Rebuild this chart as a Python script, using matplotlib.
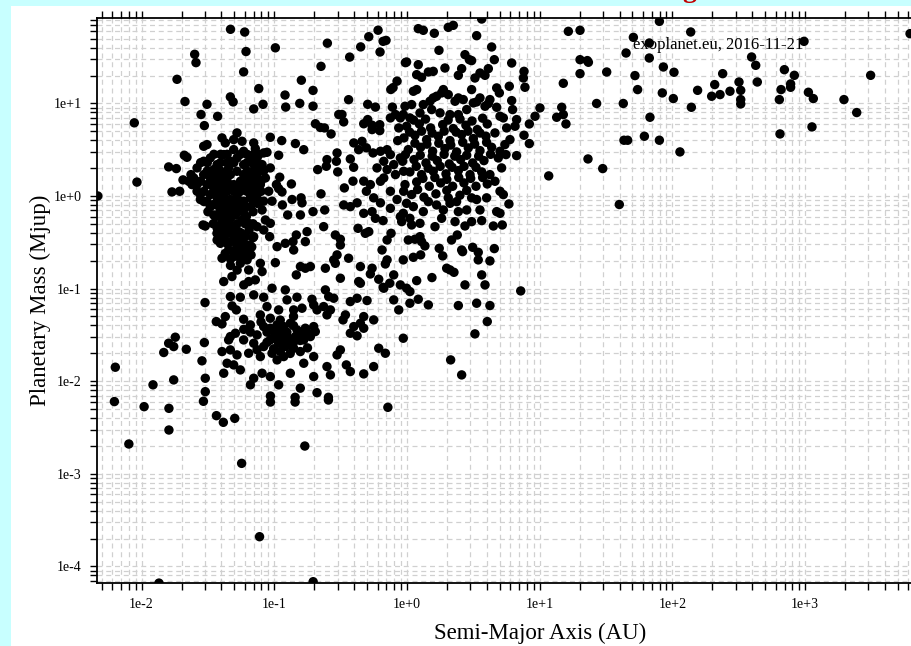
import numpy as np
import matplotlib.pyplot as plt
from matplotlib.ticker import FixedLocator, FuncFormatter, NullFormatter
from matplotlib.patches import Rectangle

# Values, stored as (log10 semi-major axis [AU], log10 mass [Mjup])

# short-period / warm region, upper left
upper_left = [
    (-1.33, 1.80), (-1.223, 1.77), (-1.213, 1.56), (-1.231, 1.34), (-0.992, 1.60), (-1.60, 1.53),
    (-1.59, 1.44), (-1.733, 1.26), (-0.60, 1.65), (-0.648, 1.40), (-0.432, 1.50), (-0.349, 1.61),
    (-0.288, 1.72), (-0.218, 1.79), (-0.18, 1.67), (-0.158, 1.68), (-0.203, 1.555), (-0.012, 1.44),
    (-0.796, 1.25), (-0.708, 1.14), (-1.117, 1.16), (-0.919, 1.09), (-0.914, 0.96), (-0.808, 1.0),
    (-0.708, 0.97), (-1.085, 0.99), (-1.155, 0.94), (-1.331, 1.07), (-1.31, 1.016), (-1.673, 1.02),
    (-1.507, 0.99), (-1.552, 0.88), (-1.427, 0.86), (-1.527, 0.76), (-2.055, 0.79), (-2.035, 0.15),
    (-2.33, 0.0), (-0.44, 1.04), (-0.296, 0.99), (-0.238, 0.96), (-0.105, 1.17), (-0.122, 1.15),
    (-0.075, 1.24), (-0.514, 0.88), (-0.49, 0.88), (-0.477, 0.80), (-0.69, 0.78), (-0.653, 0.74),
    (-0.622, 0.735), (-0.572, 0.67), (-0.326, 0.78), (-0.296, 0.825), (-0.263, 0.764), (-0.263, 0.717),
    (-0.205, 0.77), (-0.205, 0.706), (-0.11, 0.96), (-0.087, 0.88), (-0.05, 0.843), (-0.062, 0.735),
    (-0.125, 0.843), (-0.07, 0.598), (-0.401, 0.573), (-0.339, 0.59), (-0.306, 0.52), (-0.364, 0.50),
    (-0.256, 0.465), (-0.2, 0.483), (-0.15, 0.50), (-0.125, 0.447), (-0.175, 0.375), (-0.10, 0.339),
    (-0.05, 0.411), (-0.012, 0.447), (-0.15, 0.285), (-0.087, 0.231), (-0.025, 0.267), (-0.226, 0.303),
    (-0.175, 0.195), (-0.276, 0.123), (-0.2, 0.159), (-0.527, 0.465), (-0.532, 0.375), (-0.522, 0.26),
    (-0.603, 0.393), (-0.608, 0.321), (-0.673, 0.285), (-0.427, 0.40), (-0.402, 0.31), (-0.407, 0.16),
    (-0.472, 0.087), (-0.326, 0.16), (-0.306, 0.051), (-0.376, -0.074), (-0.251, -0.02), (-0.2, -0.074),
    (-0.075, -0.038), (-0.025, 0.051), (-0.125, 0.051), (-0.648, 0.023), (-0.871, 0.13), (-0.967, 0.08),
    (-0.942, 0.044), (-0.866, -0.038), (-0.798, -0.02), (-0.791, -0.074), (-0.967, 0.44), (-0.944, 0.598),
    (-1.03, 0.634), (-0.841, 0.566), (-0.778, 0.50), (-1.055, 0.472), (-1.03, 0.303), (-0.959, 0.203),
    (-0.984, 0.123),
]

# hot Jupiter pile-up around 0.05 AU
hot_jupiters = [
    (-1.796, 0.314), (-1.738, 0.296), (-1.678, 0.44), (-1.658, 0.418), (-1.771, 0.044), (-1.713, 0.051),
    (-1.688, 0.174), (-1.628, 0.231), (-1.62, 0.123), (-1.582, 0.051), (-1.557, 0.015), (-1.532, 0.537),
    (-1.507, 0.555), (-1.394, 0.627), (-1.369, 0.573), (-1.306, 0.609), (-1.281, 0.681), (-1.243, 0.591),
    (-1.155, 0.573), (-1.143, 0.512), (-1.117, 0.447), (-1.08, 0.465), (-1.092, 0.339), (-1.155, 0.339),
    (-1.582, 0.303), (-1.532, 0.231), (-1.482, 0.195), (-1.431, 0.231), (-1.381, 0.195), (-1.331, 0.231),
    (-1.281, 0.267), (-1.231, 0.231), (-1.18, 0.195), (-1.13, 0.231), (-1.507, 0.123), (-1.457, 0.087),
    (-1.406, 0.123), (-1.356, 0.087), (-1.306, 0.123), (-1.256, 0.087), (-1.205, 0.123), (-1.155, 0.087),
    (-1.105, 0.123), (-1.482, 0.015), (-1.431, -0.02), (-1.381, 0.015), (-1.331, -0.038), (-1.281, -0.002),
    (-1.231, -0.056), (-1.18, -0.02), (-1.13, 0.015), (-1.08, -0.056), (-1.457, -0.092), (-1.394, -0.11),
    (-1.306, -0.092), (-1.218, -0.11), (-1.532, 0.375), (-1.482, 0.411), (-1.431, 0.339), (-1.381, 0.447),
    (-1.331, 0.375), (-1.281, 0.411), (-1.231, 0.339), (-1.18, 0.375), (-1.13, 0.411), (-1.306, 0.501),
    (-1.231, 0.483), (-1.344, 0.303), (-1.457, 0.285), (-1.13, 0.303), (-1.067, 0.195), (-1.042, 0.051),
    (-1.017, -0.056), (-1.607, 0.195), (-1.645, 0.159), (-1.582, 0.123), (-1.557, -0.038), (-1.507, -0.056),
    (-1.482, -0.115), (-1.431, -0.079), (-1.381, -0.151), (-1.331, -0.115), (-1.281, -0.079), (-1.231, -0.151),
    (-1.18, -0.115), (-1.457, -0.205), (-1.394, -0.259), (-1.344, -0.223), (-1.293, -0.205), (-1.243, -0.259),
    (-1.193, -0.295), (-1.369, -0.367), (-1.318, -0.403), (-1.268, -0.385), (-1.218, -0.439), (-1.331, -0.493),
    (-1.281, -0.547), (-1.231, -0.583), (-1.344, -0.583), (-1.306, -0.655), (-1.256, -0.672), (-1.205, -0.69),
    (-1.13, -0.331), (-1.067, -0.259), (-1.092, -0.151), (-1.13, -0.079), (-1.431, -0.475), (-1.406, -0.385),
    (-1.537, -0.313), (-1.52, -0.324), (-1.444, -0.223), (-1.432, -0.403), (-1.406, -0.511), (-1.394, -0.672),
    (-1.381, -0.924), (-1.319, -0.87), (-1.306, -0.6), (-1.281, -0.547), (-1.256, -0.727), (-1.193, -0.799),
    (-1.23, -0.96), (-1.193, -0.924), (-1.143, -0.906), (-1.175, -0.636), (-1.155, -0.439), (-1.185, -0.529),
    (-1.105, -0.727), (-1.092, -0.816), (-1.08, -0.367), (-1.03, -0.295), (-1.035, -0.439), (-0.979, -0.547),
    (-0.992, -0.72),
]

# the solid core of the hot Jupiter pile-up
hot_core = [
    (-1.455, 0.45), (-1.405, 0.45), (-1.355, 0.45), (-1.255, 0.45), (-1.205, 0.45), (-1.155, 0.45),
    (-1.555, 0.36), (-1.505, 0.36), (-1.405, 0.36), (-1.355, 0.36), (-1.305, 0.36), (-1.205, 0.36),
    (-1.155, 0.36), (-1.505, 0.27), (-1.455, 0.27), (-1.405, 0.27), (-1.355, 0.27), (-1.205, 0.27),
    (-1.155, 0.27), (-1.08, 0.27), (-1.555, 0.16), (-1.455, 0.16), (-1.405, 0.16), (-1.355, 0.16),
    (-1.255, 0.16), (-1.205, 0.16), (-1.155, 0.16), (-1.10, 0.16), (-1.53, 0.05), (-1.455, 0.05),
    (-1.405, 0.05), (-1.355, 0.05), (-1.305, 0.05), (-1.255, 0.05), (-1.205, 0.05), (-1.155, 0.05),
    (-1.10, 0.05), (-1.53, -0.06), (-1.405, -0.06), (-1.355, -0.06), (-1.305, -0.06), (-1.255, -0.06),
    (-1.155, -0.06), (-1.10, -0.06), (-1.50, -0.17), (-1.41, -0.17), (-1.35, -0.17), (-1.30, -0.17),
    (-1.24, -0.17), (-1.16, -0.17), (-1.46, -0.30), (-1.40, -0.30), (-1.34, -0.30), (-1.28, -0.30),
    (-1.22, -0.30), (-1.16, -0.30), (-1.38, -0.45), (-1.30, -0.45), (-1.24, -0.45), (-1.16, -0.45),
    (-1.33, -0.75), (-1.28, -0.80), (-1.22, -0.62),
    (-1.43, -0.10), (-1.38, -0.23), (-1.33, -0.24), (-1.27, -0.13), (-1.21, -0.22), (-1.43, -0.35),
    (-1.37, -0.42), (-1.31, -0.34), (-1.25, -0.40), (-1.19, -0.37), (-1.35, -0.52), (-1.29, -0.50),
    (-1.23, -0.51), (-1.17, -0.55), (-1.37, -0.62), (-1.27, -0.62), (-1.21, -0.58), (-1.33, -0.68),
]

# intermediate masses, 0.1 - 1 AU, below 1 Mjup
warm_mid = [
    (-0.899, -0.205), (-0.917, -0.511), (-0.859, -0.493), (-0.834, -0.421), (-0.854, -0.583), (-0.766, -0.493),
    (-0.753, -0.385), (-0.803, -0.205), (-0.708, -0.169), (-0.62, -0.151), (-0.628, -0.331), (-0.939, -0.097),
    (-0.803, -0.762), (-0.766, -0.78), (-0.728, -0.762), (-0.834, -0.852), (-0.615, -0.78), (-0.552, -0.69),
    (-0.527, -0.636), (-0.44, -0.672), (-0.502, -0.888), (-0.351, -0.762), (-0.263, -0.78), (-0.276, -0.842),
    (-0.364, -0.924), (-0.351, -0.942), (-0.54, -0.421), (-0.502, -0.467), (-0.502, -0.529), (-0.54, -0.727),
    (-0.477, -0.097), (-0.427, -0.115), (-0.326, -0.187), (-0.263, -0.169), (-0.125, -0.133), (-0.05, -0.223),
    (-0.369, -0.349), (-0.314, -0.403), (-0.288, -0.385), (-0.238, -0.241), (-0.18, -0.266), (-0.12, -0.403),
    (-0.15, -0.475), (-0.188, -0.583), (-0.15, -0.69), (-0.163, -0.734), (-0.1, -0.852), (-0.05, -0.96),
    (-0.175, -0.996), (-0.213, -0.899), (-0.13, -0.942),
]

# low-mass planets, mostly inside 1 AU
low_mass = [
    (-1.522, -1.151), (-1.331, -1.086), (-1.256, -1.093), (-1.155, -1.068), (-1.08, -1.093), (-1.017, -0.996),
    (-0.917, -1.014), (-0.829, -1.093), (-0.716, -1.115), (-0.615, -1.014), (-0.59, -1.086), (-0.552, -1.104),
    (-1.318, -1.187), (-1.286, -1.23), (-1.369, -1.302), (-1.437, -1.356), (-1.394, -1.381), (-1.231, -1.331),
    (-1.18, -1.392), (-1.105, -1.284), (-1.055, -1.194), (-1.03, -1.32), (-0.967, -1.23), (-0.904, -1.122),
    (-0.854, -1.23), (-0.791, -1.212), (-0.703, -1.176), (-0.678, -1.23), (-0.628, -1.194), (-0.577, -1.23),
    (-0.603, -1.284), (-1.08, -1.41), (-1.03, -1.428), (-0.979, -1.392), (-0.929, -1.41), (-0.879, -1.374),
    (-0.829, -1.446), (-0.766, -1.428), (-0.703, -1.41), (-0.691, -1.464), (-0.992, -1.482), (-0.942, -1.5),
    (-0.891, -1.536), (-0.841, -1.518), (-0.778, -1.554), (-0.728, -1.518), (-1.03, -1.554), (-0.967, -1.59),
    (-0.917, -1.626), (-0.854, -1.644), (-0.804, -1.68), (-1.08, -1.626), (-1.155, -1.59), (-1.231, -1.554),
    (-1.293, -1.482), (-1.331, -1.518), (-1.344, -1.554), (-1.331, -1.662), (-1.281, -1.716), (-1.193, -1.698),
    (-1.105, -1.734), (-1.017, -1.698), (-0.979, -1.77), (-0.929, -1.734), (-0.778, -1.806), (-0.703, -1.734),
    (-0.603, -1.842), (-0.527, -1.716), (-0.502, -1.662), (-0.427, -1.482), (-0.401, -1.41), (-0.351, -1.374),
    (-0.376, -1.51), (-0.326, -1.302), (-0.251, -1.338), (-0.163, -1.698), (-0.213, -1.644), (-0.251, -1.842),
    (-0.326, -1.921), (-0.427, -1.896), (-0.457, -1.824), (-0.577, -1.932), (-0.703, -1.95), (-0.804, -2.075),
    (-0.879, -1.914), (-0.967, -2.039), (-1.03, -1.95), (-1.092, -1.914), (-1.155, -1.968), (-1.18, -2.039),
    (-1.256, -1.878), (-1.306, -1.824), (-1.356, -1.806), (-1.381, -1.914), (-1.394, -1.68), (-0.427, -1.14),
    (-0.376, -1.104), (-0.301, -1.129), (-0.464, -1.284), (-0.482, -1.338), (-0.326, -1.428), (-0.18, -0.986),
    (-0.1, -1.122), (-0.062, -1.23), (-1.796, -1.59), (-1.746, -1.525), (-1.758, -1.626), (-1.833, -1.69),
    (-1.663, -1.655), (-1.527, -1.583), (-1.545, -1.78), (-1.52, -1.968), (-1.758, -1.986), (-1.914, -2.039),
    (-2.198, -1.849), (-2.205, -2.22),
]

# densest part of the low-mass group
low_core = [
    (-1.055, -1.47), (-1.005, -1.44), (-0.955, -1.45), (-0.905, -1.47), (-0.855, -1.40), (-0.805, -1.49),
    (-0.755, -1.47), (-1.055, -1.58), (-1.005, -1.53), (-0.955, -1.55), (-0.905, -1.58), (-0.855, -1.58),
    (-0.805, -1.56), (-1.005, -1.65), (-0.955, -1.68), (-0.88, -1.70), (-1.13, -1.50), (-1.18, -1.47),
    (-1.23, -1.44), (-1.13, -1.66), (-0.75, -1.64), (-0.955, -1.34), (-0.855, -1.30), (-1.10, -1.36),
]

# sparse points below 0.01 Mjup
lowest = [
    (-1.981, -2.275), (-1.794, -2.293), (-1.794, -2.527), (-2.096, -2.678), (-1.534, -2.217), (-1.436, -2.372),
    (-1.384, -2.444), (-1.298, -2.401), (-1.246, -2.887), (-1.111, -3.679), (-1.029, -2.16), (-1.029, -2.225),
    (-0.843, -2.174), (-0.843, -2.225), (-0.77, -2.7), (-0.678, -2.124), (-0.592, -2.174), (-0.592, -2.203),
    (-0.144, -2.282), (-1.869, -4.18), (-0.707, -4.165), (-1.52, -2.113),
]

# giant planets beyond ~1 AU
cool_giants = [
    (0.085, 1.807), (0.123, 1.789), (0.206, 1.757), (0.311, 1.821), (0.349, 1.843), (0.525, 1.731),
    (0.563, 1.911), (0.241, 1.573), (0.638, 1.609), (0.437, 1.526), (0.47, 1.472), (0.487, 1.462),
    (0.658, 1.472), (0.789, 1.436), (-0.003, 1.447), (0.085, 1.418), (0.286, 1.382), (0.073, 1.31),
    (0.11, 1.282), (0.161, 1.339), (0.198, 1.346), (0.412, 1.375), (0.387, 1.303), (0.512, 1.274),
    (0.55, 1.328), (0.588, 1.303), (0.613, 1.375), (0.882, 1.346), (0.877, 1.274), (0.889, 1.174),
    (1.178, 1.217), (1.304, 1.789), (1.216, 1.778), (1.304, 1.472), (1.359, 1.462), (1.367, 1.444),
    (1.304, 1.321), (1.505, 1.339), (1.706, 1.713), (1.902, 1.886), (2.138, 1.771), (1.826, 1.652),
    (1.651, 1.544), (1.826, 1.49), (1.932, 1.393), (2.012, 1.336), (1.718, 1.3), (1.738, 1.149),
    (1.924, 1.113), (2.007, 1.052), (2.19, 1.141), (2.143, 0.958), (1.429, 0.999), (1.63, 0.999),
    (1.831, 0.85), (1.789, 0.645), (1.902, 0.602), (1.635, 0.602), (1.663, 0.602), (2.057, 0.476),
    (1.364, 0.4), (1.475, 0.296), (1.068, 0.217), (1.6, -0.092), (1.002, 0.951), (1.166, 0.958),
    (1.128, 0.85), (1.178, 0.879), (1.198, 0.778), (0.965, 0.861), (0.922, 0.778), (0.882, 0.656),
    (0.922, 0.566), (0.826, 0.436), (0.789, 1.03), (0.796, 0.933), (0.771, 1.185), (0.676, 1.167),
    (0.696, 1.113), (0.625, 1.041), (0.613, 0.998), (0.525, 1.016), (0.676, 0.958), (0.701, 0.861),
    (0.726, 0.843), (0.826, 0.825), (0.814, 0.753), (0.751, 0.735), (0.776, 0.609), (0.738, 0.555),
    (0.701, 0.483), (0.746, 0.447), (0.688, 0.411), (0.713, 0.303), (0.625, 0.231), (0.663, 0.159),
    (0.701, 0.051), (0.726, 0.015), (0.6, -0.02), (0.525, -0.038), (-0.015, 0.969), (0.035, 0.987),
    (0.073, 1.149), (0.048, 1.131), (0.123, 0.987), (0.173, 1.023), (0.198, 1.059), (0.223, 1.077),
    (0.261, 1.113), (0.274, 1.149), (0.311, 1.095), (0.362, 1.023), (0.387, 1.059), (0.424, 1.041),
    (0.487, 1.149), (0.5, 1.005), (0.55, 1.059), (0.588, 0.969), (0.45, 0.933), (0.387, 0.879),
    (0.324, 0.879), (0.249, 0.897), (0.186, 0.933), (0.098, 0.897), (0.022, 0.843), (-0.028, 0.879),
]

# dense core of the 1-3 AU giants
giants_core = [
    (-0.003, 0.753), (0.093, 0.778), (0.178, 0.735), (0.269, 0.771), (0.349, 0.728), (0.444, 0.764),
    (0.53, 0.717), (0.605, 0.778), (-0.023, 0.627), (0.06, 0.656), (0.148, 0.609), (0.236, 0.645),
    (0.324, 0.598), (0.412, 0.663), (0.5, 0.62), (0.595, 0.645), (0.663, 0.681), (0.01, 0.501),
    (0.103, 0.526), (0.193, 0.483), (0.286, 0.512), (0.374, 0.476), (0.462, 0.519), (0.55, 0.49),
    (0.638, 0.526), (-0.033, 0.375), (0.053, 0.393), (0.143, 0.357), (0.228, 0.382), (0.319, 0.346),
    (0.404, 0.393), (0.495, 0.357), (0.58, 0.382), (0.022, 0.26), (0.11, 0.231), (0.198, 0.267),
    (0.294, 0.239), (0.387, 0.274), (0.475, 0.231), (0.563, 0.26), (-0.015, 0.123), (0.073, 0.152),
    (0.168, 0.105), (0.254, 0.141), (0.344, 0.105), (0.429, 0.141), (0.52, 0.105), (0.605, 0.13),
    (0.035, 0.015), (0.128, -0.013), (0.218, 0.023), (0.311, -0.02), (0.399, 0.008), (0.487, -0.02),
    (0.05, 0.82), (0.14, 0.83), (0.31, 0.82), (0.40, 0.83), (0.49, 0.81), (0.57, 0.84),
    (0.02, 0.69), (0.11, 0.70), (0.19, 0.68), (0.28, 0.70), (0.37, 0.69), (0.46, 0.70), (0.55, 0.68),
    (0.06, 0.57), (0.15, 0.56), (0.24, 0.57), (0.33, 0.55), (0.42, 0.58), (0.51, 0.56), (0.60, 0.58),
    (0.10, 0.44), (0.19, 0.43), (0.28, 0.45), (0.36, 0.43), (0.45, 0.44), (0.54, 0.43), (0.63, 0.45),
    (0.07, 0.32), (0.16, 0.30), (0.25, 0.32), (0.34, 0.31), (0.43, 0.32), (0.52, 0.31),
    (0.12, 0.19), (0.21, 0.20), (0.30, 0.18), (0.39, 0.20), (0.48, 0.19), (0.57, 0.20),
    (0.08, 0.07), (0.30, 0.06), (0.45, 0.06),
]

# giants below 1 Mjup beyond 1 AU
mid_right = [
    (-0.003, -0.079), (0.048, -0.115), (-0.028, -0.187), (0.022, -0.241), (0.098, -0.295), (0.161, -0.061),
    (0.223, -0.097), (0.274, -0.151), (0.324, -0.079), (0.374, -0.061), (0.387, -0.169), (0.45, -0.151),
    (0.487, -0.277), (0.55, -0.151), (0.563, -0.266), (0.437, -0.324), (0.362, -0.277), (0.261, -0.241),
    (0.211, -0.331), (0.123, -0.169), (-0.04, -0.277), (0.035, -0.313), (0.676, -0.169), (0.701, -0.187),
    (0.651, -0.324), (0.718, -0.313), (0.768, -0.086), (0.01, -0.475), (0.06, -0.467), (0.098, -0.439),
    (0.11, -0.493), (0.135, -0.539), (0.243, -0.565), (0.269, -0.647), (0.336, -0.475), (0.379, -0.421),
    (0.412, -0.583), (0.419, -0.601), (0.495, -0.554), (0.537, -0.608), (0.537, -0.69), (0.625, -0.701),
    (0.658, -0.568), (0.048, -0.662), (0.103, -0.636), (-0.028, -0.69), (0.299, -0.78), (0.324, -0.798),
    (0.354, -0.824), (0.188, -0.881), (0.073, -0.914), (-0.003, -0.996), (0.022, -1.032), (0.022, -1.158),
    (0.085, -1.115), (0.161, -1.176), (0.437, -0.96), (0.563, -0.852), (0.588, -0.96), (0.387, -1.183),
    (0.525, -1.158), (0.625, -1.183), (0.605, -1.356), (0.512, -1.489), (-0.028, -1.536), (0.329, -1.77),
    (0.412, -1.932), (0.857, -1.025),
]

# wide-orbit companions
far_out = [
    (2.992, 1.67), (3.791, 1.753), (2.597, 1.501), (2.628, 1.411), (2.64, 1.231), (2.379, 1.321),
    (2.319, 1.203), (2.296, 1.077), (2.359, 1.095), (2.434, 1.131), (2.502, 1.231), (2.515, 1.141),
    (2.515, 1.041), (2.515, 0.994), (2.844, 1.364), (2.919, 1.303), (2.891, 1.21), (2.891, 1.174),
    (2.819, 1.149), (2.806, 1.041), (3.025, 1.12), (3.062, 1.052), (3.293, 1.041), (3.389, 0.901),
    (3.494, 1.303), (3.052, 0.746), (2.811, 0.67),
]

x_decades = [-2, -1, 0, 1, 2, 3]
y_decades = [-4, -3, -2, -1, 0, 1]

pts = np.array(upper_left + hot_jupiters + hot_core + warm_mid + low_mass + low_core + lowest
               + cool_giants + giants_core + mid_right + far_out)
sma = 10 ** pts[:, 0]
mass = 10 ** pts[:, 1]

plt.rcParams['font.family'] = ['Liberation Serif', 'DejaVu Serif']

fig = plt.figure(figsize=(9.11, 6.46), dpi=100, facecolor='#c8ffff')
# white page area (cyan strip on top and left)
fig.patches.append(Rectangle((11 / 911, 0), 1, 640 / 646, transform=fig.transFigure,
                             facecolor='white', edgecolor='none', zorder=-10))

ax = fig.add_axes([97 / 911, 63 / 646, 823 / 911, 565 / 646])
ax.set_xscale('log')
ax.set_yscale('log')
xlim = (10 ** -2.336, 10 ** 3.866)
ylim = (10 ** -4.179, 10 ** 1.922)
ax.set_xlim(*xlim)
ax.set_ylim(*ylim)

ax.set_axisbelow(True)
ax.grid(which='both', color='#d0d0d0', linestyle=(0, (4, 3)), linewidth=0.9)

ax.scatter(sma, mass, s=46, c='black', edgecolors='none', zorder=3)


def fmt(v, pos):
    e = int(round(np.log10(v)))
    return f"1e{e:+d}"


def minor_ticks(lo, hi):
    vals = [k * 10.0 ** d for d in range(-5, 5) for k in range(2, 10)]
    return [v for v in vals if lo <= v <= hi]


ax.xaxis.set_major_locator(FixedLocator([10.0 ** d for d in x_decades]))
ax.yaxis.set_major_locator(FixedLocator([10.0 ** d for d in y_decades]))
ax.xaxis.set_minor_locator(FixedLocator(minor_ticks(*xlim)))
ax.yaxis.set_minor_locator(FixedLocator(minor_ticks(*ylim)))
for axis in (ax.xaxis, ax.yaxis):
    axis.set_major_formatter(FuncFormatter(fmt))
    axis.set_minor_formatter(NullFormatter())

ax.tick_params(which='both', direction='out', length=5, width=1, top=True,
               labeltop=False, right=False, labelsize=10, pad=6)
for sp in ax.spines.values():
    sp.set_linewidth(1.3)

fig.text(540 / 911, 1 - 633 / 646, 'Semi-Major Axis (AU)', ha='center', va='center', fontsize=16.5)
fig.text(40 / 911, 1 - 300 / 646, 'Planetary Mass (Mjup)', ha='center', va='center',
         rotation=90, fontsize=16.5)
fig.text(633 / 911, 1 - 45 / 646, 'exoplanet.eu, 2016-11-21', ha='left', va='center', fontsize=12)
# bottom of the red title, cut off by the top edge
fig.text(689 / 911, 1 + 3 / 646, 'g', color='#c00000', fontsize=20, fontweight='bold',
         ha='center', va='baseline')

fig.savefig('out.png', dpi=100, facecolor=fig.get_facecolor())
